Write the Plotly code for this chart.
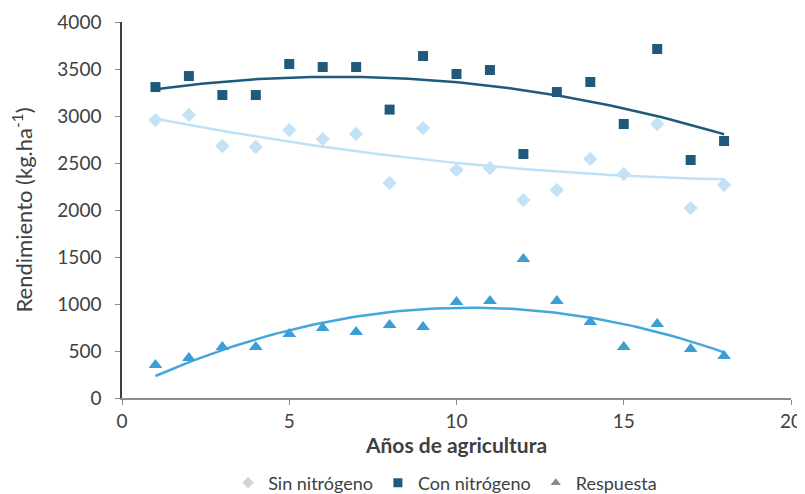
import numpy as np
import plotly.graph_objects as go

years = list(range(1, 19))
sin_nitrogeno = [2957, 3011, 2681, 2670, 2851, 2755, 2809, 2287, 2872, 2426, 2447, 2106, 2213, 2543, 2383, 2915, 2021, 2266]
con_nitrogeno = [3308, 3425, 3223, 3223, 3553, 3521, 3521, 3068, 3638, 3447, 3489, 2596, 3255, 3362, 2915, 3713, 2532, 2734]
respuesta = [351, 425, 543, 543, 681, 745, 702, 777, 755, 1021, 1032, 1479, 1032, 809, 543, 787, 521, 447]

x_ticks = [0, 5, 10, 15, 20]
y_ticks = [0, 500, 1000, 1500, 2000, 2500, 3000, 3500, 4000]

c_sin_m, c_sin_l = "#c4e2f6", "#bfe2f8"
c_con = "#1f5a7b"
c_resp_m, c_resp_l = "#3b9fd5", "#45a6db"

fig = go.Figure()
xs = np.linspace(min(years), max(years), 100)

def trend(vals):
    p = np.polyfit(years, vals, 2)
    return np.polyval(p, xs)

series = [
    (sin_nitrogeno, c_sin_m, c_sin_l, "diamond", 11),
    (con_nitrogeno, c_con, c_con, "square", 10),
    (respuesta, c_resp_m, c_resp_l, "triangle-up", 12),
]
for vals, cm, cl, sym, sz in series:
    fig.add_trace(go.Scatter(x=xs, y=trend(vals), mode="lines",
                             line=dict(color=cl, width=2.5), showlegend=False, hoverinfo="skip"))
    fig.add_trace(go.Scatter(x=years, y=vals, mode="markers",
                             marker=dict(symbol=sym, size=sz, color=cm), showlegend=False))

legend_items = [("Sin nitrógeno", "#d4d4d4", "diamond"),
                ("Con nitrógeno", c_con, "square"),
                ("Respuesta", "#8a8a8a", "triangle-up")]
for name, col, sym in legend_items:
    fig.add_trace(go.Scatter(x=[None], y=[None], mode="markers", name=name,
                             marker=dict(symbol=sym, size=9, color=col)))

font_family = "Lato, 'Open Sans', sans-serif"
fig.update_layout(
    width=797, height=486,
    margin=dict(l=114, r=14, t=14, b=96, autoexpand=False),
    plot_bgcolor="white", paper_bgcolor="white",
    font=dict(family=font_family, size=19, color="#404040"),
    xaxis=dict(range=[0, 20], tickvals=x_ticks, showgrid=False, zeroline=False,
               showline=True, linecolor="#8c8c8c", linewidth=1.5, automargin=False,
               ticks="outside", ticklen=5, tickcolor="#8c8c8c",
               tickfont=dict(size=19),
               title=dict(text="<b>Años de agricultura</b>", font=dict(size=21, color="#404040"), standoff=2)),
    yaxis=dict(range=[0, 4000], tickvals=y_ticks, showgrid=False, zeroline=False,
               showline=True, linecolor="#404040", linewidth=1.5, automargin=False,
               ticks="outside", ticklen=5, tickcolor="#8c8c8c", ticklabelstandoff=10,
               tickfont=dict(size=19),
               title=dict(text="Rendimiento (kg.ha<sup>-1</sup>)", font=dict(size=22, color="#404040"), standoff=22)),
    legend=dict(orientation="h", x=0.483, xanchor="center", y=-0.226, yanchor="middle",
                font=dict(size=18, color="#404040"), itemwidth=30, tracegroupgap=0),
)

fig.write_html("out.html")
